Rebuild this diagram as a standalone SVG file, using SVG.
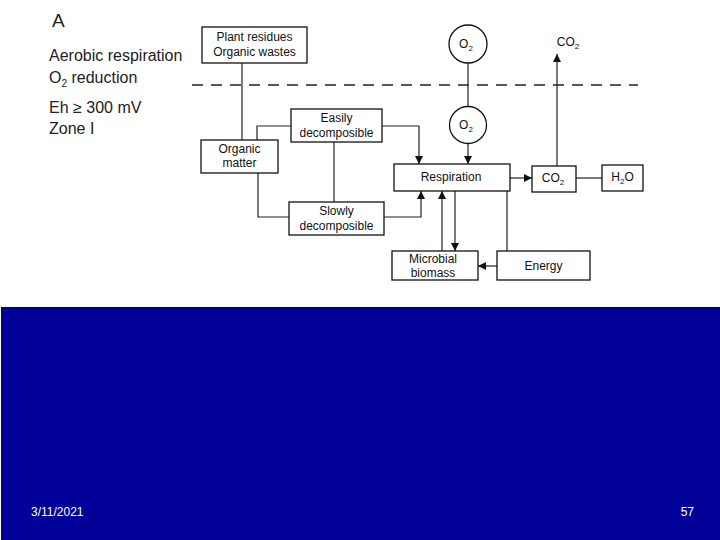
<svg xmlns="http://www.w3.org/2000/svg" width="720" height="540" viewBox="0 0 720 540">
<style>
.box{fill:#fff;stroke:#111;stroke-width:1.3}
.ln{fill:none;stroke:#222;stroke-width:1.2}
.t{font-family:"Liberation Sans",Arial,sans-serif;font-size:12px;fill:#111;text-anchor:middle}
.big{font-family:"Liberation Sans",Arial,sans-serif;font-size:16px;fill:#222}
.ft{font-family:"Liberation Sans Narrow","Liberation Sans",Arial,sans-serif;font-size:12px;fill:#fff}
</style>
<defs>
<marker id="ah" viewBox="0 0 10 10" refX="10" refY="5" markerWidth="13" markerHeight="8" markerUnits="userSpaceOnUse" orient="auto">
<path d="M0,0 L10,5 L0,10 z" fill="#111"/>
</marker>
</defs>
<rect width="720" height="540" fill="#fff"/>
<rect x="1" y="307" width="719" height="233" fill="#000099"/>
<g id="labels">
<text x="52" y="27" font-family="Liberation Sans, Arial, sans-serif" font-size="19" fill="#222">A</text>
<text x="49" y="61" class="big">Aerobic respiration</text>
<text x="49" y="83" class="big">O<tspan font-size="10" dy="4">2</tspan><tspan dy="-4"> reduction</tspan></text>
<text x="49" y="113" class="big">Eh ≥ 300 mV</text>
<text x="49" y="134" class="big">Zone I</text>
</g>
<g id="connectors">
<line x1="192" y1="85" x2="638" y2="85" stroke="#222" stroke-width="1.3" stroke-dasharray="11,8"/>
<line class="ln" x1="242" y1="63" x2="242" y2="140"/>
<polyline class="ln" points="257,140 257,126 291,126"/>
<polyline class="ln" points="382,126 419,126 419,164" marker-end="url(#ah)"/>
<line class="ln" x1="334" y1="142" x2="334" y2="202"/>
<polyline class="ln" points="258,173 258,217 289,217"/>
<polyline class="ln" points="384,217 421,217 421,191" marker-end="url(#ah)"/>
<line class="ln" x1="468" y1="63" x2="468" y2="107"/>
<line class="ln" x1="468" y1="144" x2="468" y2="164" marker-end="url(#ah)"/>
<line class="ln" x1="557" y1="166" x2="557" y2="54" marker-end="url(#ah)"/>
<line class="ln" x1="510" y1="178" x2="532" y2="178" marker-end="url(#ah)"/>
<line class="ln" x1="576" y1="178" x2="602" y2="178"/>
<line class="ln" x1="442" y1="251" x2="442" y2="191" marker-end="url(#ah)"/>
<line class="ln" x1="455" y1="191" x2="455" y2="251" marker-end="url(#ah)"/>
<line class="ln" x1="507" y1="191" x2="507" y2="251"/>
<line class="ln" x1="497" y1="266" x2="478" y2="266" marker-end="url(#ah)"/>
</g>
<g id="plant">
<rect class="box" x="202" y="27" width="105" height="36"/>
<text class="t" x="254.5" y="41">Plant residues</text>
<text class="t" x="254.5" y="56">Organic wastes</text>
</g>
<g id="easily">
<rect class="box" x="291" y="109" width="91" height="33"/>
<text class="t" x="336.5" y="122">Easily</text>
<text class="t" x="336.5" y="137">decomposible</text>
</g>
<g id="organic">
<rect class="box" x="201" y="140" width="77" height="33"/>
<text class="t" x="239.5" y="153">Organic</text>
<text class="t" x="239.5" y="167">matter</text>
</g>
<g id="slowly">
<rect class="box" x="289" y="202" width="95" height="33"/>
<text class="t" x="336.5" y="215">Slowly</text>
<text class="t" x="336.5" y="230">decomposible</text>
</g>
<g id="o2top">
<circle class="box" cx="468" cy="44" r="19"/>
<text class="t" x="466" y="48">O<tspan font-size="8" dy="3">2</tspan></text>
</g>
<g id="o2bot">
<circle class="box" cx="468" cy="125" r="18.5"/>
<text class="t" x="466" y="129">O<tspan font-size="8" dy="3">2</tspan></text>
</g>
<g id="co2label">
<text class="t" x="568" y="46">CO<tspan font-size="8" dy="3">2</tspan></text>
</g>
<g id="respiration">
<rect class="box" x="394" y="164" width="116" height="27"/>
<text class="t" x="451" y="181">Respiration</text>
</g>
<g id="co2">
<rect class="box" x="532" y="166" width="44" height="26"/>
<text class="t" x="553" y="182">CO<tspan font-size="8" dy="3">2</tspan></text>
</g>
<g id="h2o">
<rect class="box" x="602" y="165" width="41" height="26"/>
<text class="t" x="622.5" y="181">H<tspan font-size="8" dy="3">2</tspan><tspan dy="-3">O</tspan></text>
</g>
<g id="microbial">
<rect class="box" x="392" y="251" width="86" height="29"/>
<text class="t" x="433" y="263">Microbial</text>
<text class="t" x="433" y="277">biomass</text>
</g>
<g id="energy">
<rect class="box" x="497" y="251" width="93" height="29"/>
<text class="t" x="543.5" y="270">Energy</text>
</g>
<g id="footer">
<text class="ft" x="31" y="516">3/11/2021</text>
<text class="ft" x="694" y="516" text-anchor="end">57</text>
</g>
</svg>
